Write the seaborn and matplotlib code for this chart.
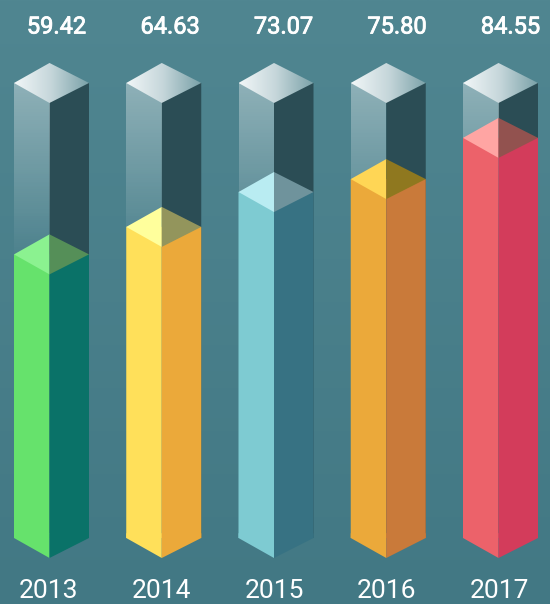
import numpy as np
import pandas as pd
import matplotlib
matplotlib.use("Agg")
import matplotlib.pyplot as plt
import matplotlib.patheffects as pe
from matplotlib.colors import LinearSegmentedColormap
from matplotlib.patches import Polygon
import seaborn as sns

# Data
years = ["2013", "2014", "2015", "2016", "2017"]
value_labels = ["59.42", "64.63", "73.07", "75.80", "84.55"]
# drawn heights differ a little from the printed values in the source picture
bar_levels = [59.9, 65.7, 73.07, 75.8, 84.5]
glass_level = 96.1

left_colors = ["#66e26c", "#ffe05a", "#7ecbd2", "#eba93a", "#ec626a"]
right_colors = ["#0a7268", "#eba93a", "#377283", "#c97a3a", "#d33c5b"]
lid_left_colors = ["#8bf290", "#ffff9c", "#b9ecf2", "#ffd655", "#ffa5a3"]
lid_right_colors = ["#558f58", "#93955c", "#6f939c", "#8f781f", "#92524f"]

# Pixel layout of the 550x604 picture
W, H = 550, 604
PX_PER_X = 112.25
PX_PER_Y = 4.735
X0_PX = 51.5
Y0_PX = 538
LEFT_W = 35.5 / PX_PER_X
RIGHT_W = 39.5 / PX_PER_X
EDGE_W = (LEFT_W + RIGHT_W) / 2
DIAMOND = 20 / PX_PER_Y

sns.set_theme(style="white")
plt.rcParams["font.family"] = ["Roboto", "DejaVu Sans"]

fig = plt.figure(figsize=(W / 100, H / 100), dpi=100)
ax = fig.add_axes([0, 0, 1, 1])


def face_table(levels):
    return pd.DataFrame({
        "year": years * 2,
        "level": list(levels) * 2,
        "face": ["left"] * len(years) + ["right"] * len(years),
    })


def draw_faces(levels):
    before = len(ax.containers)
    sns.barplot(data=face_table(levels), x="year", y="level", hue="face", order=years,
                width=EDGE_W * 2, gap=0, saturation=1, legend=False, ax=ax, errorbar=None)
    left, right = ax.containers[before], ax.containers[before + 1]
    for i, (a, b) in enumerate(zip(left, right)):
        a.set_x(i - EDGE_W)
        a.set_width(LEFT_W)
        b.set_x(i - EDGE_W + LEFT_W)
        b.set_width(RIGHT_W)
        for bar in (a, b):
            bar.set_linewidth(0)
            bar.set_snap(False)
    return left, right


def gradient(poly, cmap, extent, vertical, zorder):
    grad = np.linspace(0, 1, 256)
    grad = grad[:, None] if vertical else grad[None, :]
    im = ax.imshow(grad, cmap=cmap, extent=extent, aspect="auto", origin="lower",
                   vmin=0, vmax=1, zorder=zorder)
    im.set_clip_path(Polygon(poly, transform=ax.transData))


# Glass columns behind the coloured bars
glass_left, glass_right = draw_faces([glass_level] * len(years))
glass_fade = LinearSegmentedColormap.from_list(
    "fade", [(1, 1, 1, 0.0), (1, 1, 1, 0.0), (1, 1, 1, 0.37)])
fade_low = (Y0_PX - 265) / PX_PER_Y
lid_cmap = LinearSegmentedColormap.from_list("lid", ["#f2f7f8", "#c5d6da", "#7aa1a8"])

for i, (a, b) in enumerate(zip(glass_left, glass_right)):
    a.set_alpha(0)
    b.set_facecolor("#2b4d55")
    b.set_zorder(2)
    x0, x1 = a.get_x(), a.get_x() + a.get_width()
    gradient([(x0, 0), (x1, 0), (x1, glass_level), (x0, glass_level)], glass_fade,
             (x0, x1, 2 * fade_low - glass_level, glass_level), True, 2)

# Coloured bars
bar_left, bar_right = draw_faces(bar_levels)
for i, (a, b) in enumerate(zip(bar_left, bar_right)):
    a.set_facecolor(left_colors[i])
    b.set_facecolor(right_colors[i])
    a.set_zorder(3)
    b.set_zorder(3)
    xl, xm, xr = a.get_x(), b.get_x(), b.get_x() + b.get_width()
    # slanted bottom of the column, overlapping the bar a little to hide the seam
    ax.fill([xl, xm, xm, xl], [1, 1, -DIAMOND, 0], color=left_colors[i], lw=0, zorder=3, snap=False)
    ax.fill([xm, xr, xr, xm], [1, 1, 0, -DIAMOND], color=right_colors[i], lw=0, zorder=3, snap=False)
    # top face where the bar ends, split at the front edge
    v = bar_levels[i]
    ax.fill([xl, xm, xm], [v, v + DIAMOND, v - DIAMOND], color=lid_left_colors[i], lw=0, zorder=4)
    ax.fill([xm, xr, xm], [v + DIAMOND, v, v - DIAMOND], color=lid_right_colors[i], lw=0, zorder=4)
    # lid of the glass column
    g = glass_level
    gradient([(xl, g), (xm, g + DIAMOND), (xr, g), (xm, g - DIAMOND)], lid_cmap,
             (xl, xr, g - DIAMOND, g + DIAMOND), False, 5)
    # labels
    ax.text(i * 1.011 + 0.045, (Y0_PX - 27) / PX_PER_Y, value_labels[i], color="white",
            fontsize=17, ha="center", va="center", zorder=6,
            path_effects=[pe.withStroke(linewidth=0.6, foreground="white")])
    ax.text(i * 1.006 - 0.03, (Y0_PX - 591.5) / PX_PER_Y, years[i], color="white",
            fontsize=19, ha="center", va="center", zorder=6)

# Background
bg_cmap = LinearSegmentedColormap.from_list("bg", ["#427884", "#508691"])
xlim = (-X0_PX / PX_PER_X, (W - X0_PX) / PX_PER_X)
ylim = ((Y0_PX - H) / PX_PER_Y, Y0_PX / PX_PER_Y)
ax.imshow(np.linspace(0, 1, 256)[:, None], cmap=bg_cmap, origin="lower", aspect="auto",
          extent=(*xlim, *ylim), zorder=-10)

ax.set_xlim(*xlim)
ax.set_ylim(*ylim)
ax.set_axis_off()

fig.savefig("out.png", dpi=100)
